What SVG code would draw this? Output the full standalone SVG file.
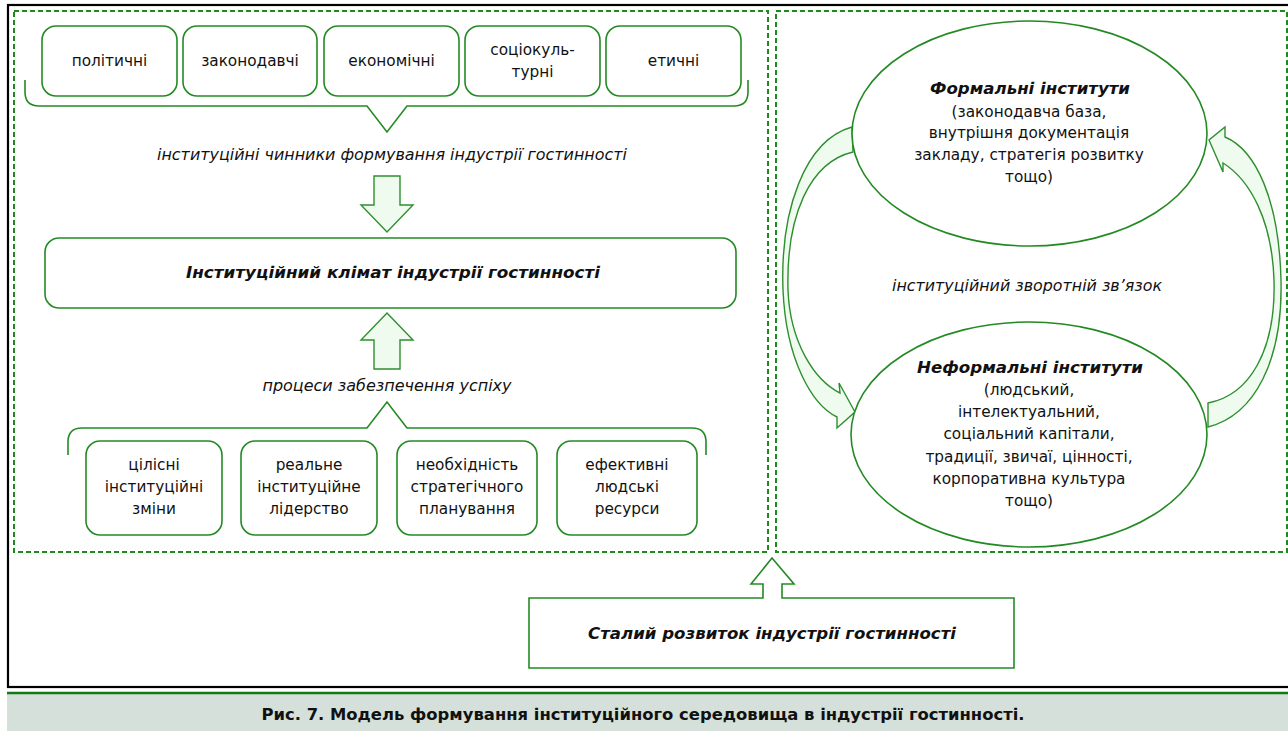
<svg xmlns="http://www.w3.org/2000/svg" width="1288" height="731" viewBox="0 0 1288 731">
<defs>
<style>
.t{font-family:"DejaVu Sans","Noto Sans",sans-serif;font-size:15.3px;fill:#111;text-anchor:middle}
.i{font-style:italic}
.b{font-weight:bold}
.h{font-size:16.5px}
.box{fill:#fff;stroke:#238a23;stroke-width:1.6}
.dash{fill:none;stroke:#1c8a1c;stroke-width:2;stroke-dasharray:5,3}
.br{fill:none;stroke:#238a23;stroke-width:1.6}
.barrow{fill:#effbef;stroke:#2e8f2e;stroke-width:1.4}
</style>
</defs>
<rect x="0" y="0" width="1288" height="731" fill="#fff"/>
<rect x="8" y="5" width="1290" height="682" fill="none" stroke="#000" stroke-width="2.2"/>
<rect x="7" y="694" width="1290" height="37" fill="#d5e0da"/>
<line x1="7" y1="693" x2="1288" y2="693" stroke="#127a12" stroke-width="2.4"/>
<text class="t b" x="643" y="720" font-size="14.5" textLength="763" lengthAdjust="spacingAndGlyphs">Рис. 7. Модель формування інституційного середовища в індустрії гостинності.</text>

<g id="frames">
<rect class="dash" x="14" y="11" width="754" height="541"/>
<rect class="dash" x="776" y="11" width="511" height="541"/>
</g>

<g id="connectors">
<path class="br" d="M25,80 L25,92 Q25,106 39,106 L367,106 L387,132 L407,106 L734,106 Q748,106 748,92 L748,80"/>
<path class="br" d="M68,455 L68,442 Q68,428 82,428 L367,428 L387,402 L407,428 L692,428 Q706,428 706,442 L706,455"/>
<path class="barrow" d="M374,176 L400,176 L400,205 L413,205 L387,232 L361,205 L374,205 Z"/>
<path class="barrow" d="M387,313 L413,340 L400,340 L400,369 L374,369 L374,340 L361,340 Z"/>
<path class="barrow" d="M852,127 C805,140 780,210 783,290 C786,360 812,405 837,417 L837,428 L855,412 L839,383 L840,393 C814,380 790,342 788,290 C786,215 810,162 853,152 Z"/>
<path class="barrow" d="M1208,427 C1255,415 1283,360 1281,280 C1279,200 1256,150 1225,137 L1225,127 L1209,140 L1223,172 L1223,163 C1250,180 1272,220 1274,280 C1276,350 1250,395 1208,403 Z"/>
</g>

<g id="n-polit"><rect class="box" x="42" y="26" width="135" height="70" rx="14"/><text class="t" x="109.5" y="66">політичні</text></g>
<g id="n-zakon"><rect class="box" x="183" y="26" width="134" height="70" rx="14"/><text class="t" x="250" y="66">законодавчі</text></g>
<g id="n-ekon"><rect class="box" x="324" y="26" width="135" height="70" rx="14"/><text class="t" x="391.5" y="66">економічні</text></g>
<g id="n-sotsio"><rect class="box" x="465" y="26" width="135" height="70" rx="14"/><text class="t" x="532.5" y="55">соціокуль-</text><text class="t" x="532.5" y="77">турні</text></g>
<g id="n-etych"><rect class="box" x="606" y="26" width="135" height="70" rx="14"/><text class="t" x="673.5" y="66">етичні</text></g>

<g id="l-chynnyky"><text class="t i" x="392" y="160" textLength="470" lengthAdjust="spacingAndGlyphs">інституційні чинники формування індустрії гостинності</text></g>

<g id="n-klimat"><rect class="box" x="45" y="238" width="691" height="70" rx="14"/><text class="t i b h" x="393" y="278" textLength="414" lengthAdjust="spacingAndGlyphs">Інституційний клімат індустрії гостинності</text></g>

<g id="l-protsesy"><text class="t i" x="387" y="391" textLength="249" lengthAdjust="spacingAndGlyphs">процеси забезпечення успіху</text></g>

<g id="n-tsilisni"><rect class="box" x="86" y="441" width="136" height="94" rx="14"/><text class="t" x="154" y="470">цілісні</text><text class="t" x="154" y="492">інституційні</text><text class="t" x="154" y="514">зміни</text></g>
<g id="n-realne"><rect class="box" x="241" y="441" width="136" height="94" rx="14"/><text class="t" x="309" y="470">реальне</text><text class="t" x="309" y="492">інституційне</text><text class="t" x="309" y="514">лідерство</text></g>
<g id="n-neobkh"><rect class="box" x="397" y="441" width="140" height="94" rx="14"/><text class="t" x="467" y="470">необхідність</text><text class="t" x="467" y="492">стратегічного</text><text class="t" x="467" y="514">планування</text></g>
<g id="n-efekt"><rect class="box" x="557" y="441" width="140" height="94" rx="14"/><text class="t" x="627" y="470">ефективні</text><text class="t" x="627" y="492">людські</text><text class="t" x="627" y="514">ресурси</text></g>

<g id="n-formal"><ellipse class="box" cx="1029.5" cy="133.5" rx="177.5" ry="112.5"/>
<text class="t i b h" x="1030" y="94" textLength="200" lengthAdjust="spacingAndGlyphs">Формальні інститути</text>
<text class="t" x="1029" y="117">(законодавча база,</text>
<text class="t" x="1029" y="138">внутрішня документація</text>
<text class="t" x="1029" y="160">закладу, стратегія розвитку</text>
<text class="t" x="1029" y="182">тощо)</text></g>

<g id="l-zvorot"><text class="t i" x="1027" y="291" textLength="270" lengthAdjust="spacingAndGlyphs">інституційний зворотній зв’язок</text></g>

<g id="n-neformal"><ellipse class="box" cx="1029" cy="434.5" rx="178" ry="112.5"/>
<text class="t i b h" x="1030" y="373" textLength="226" lengthAdjust="spacingAndGlyphs">Неформальні інститути</text>
<text class="t" x="1029" y="395">(людський,</text>
<text class="t" x="1029" y="417">інтелектуальний,</text>
<text class="t" x="1029" y="439">соціальний капітали,</text>
<text class="t" x="1029" y="462">традиції, звичаї, цінності,</text>
<text class="t" x="1029" y="484">корпоративна культура</text>
<text class="t" x="1029" y="506">тощо)</text></g>

<g id="n-stalyi"><path d="M529,598 L763,598 L763,584 L751,584 L772,558 L794,584 L782,584 L782,598 L1014,598 L1014,668 L529,668 Z" fill="#fff" stroke="#238a23" stroke-width="1.6"/>
<text class="t i b h" x="772" y="639" textLength="368" lengthAdjust="spacingAndGlyphs">Сталий розвиток індустрії гостинності</text></g>
</svg>
